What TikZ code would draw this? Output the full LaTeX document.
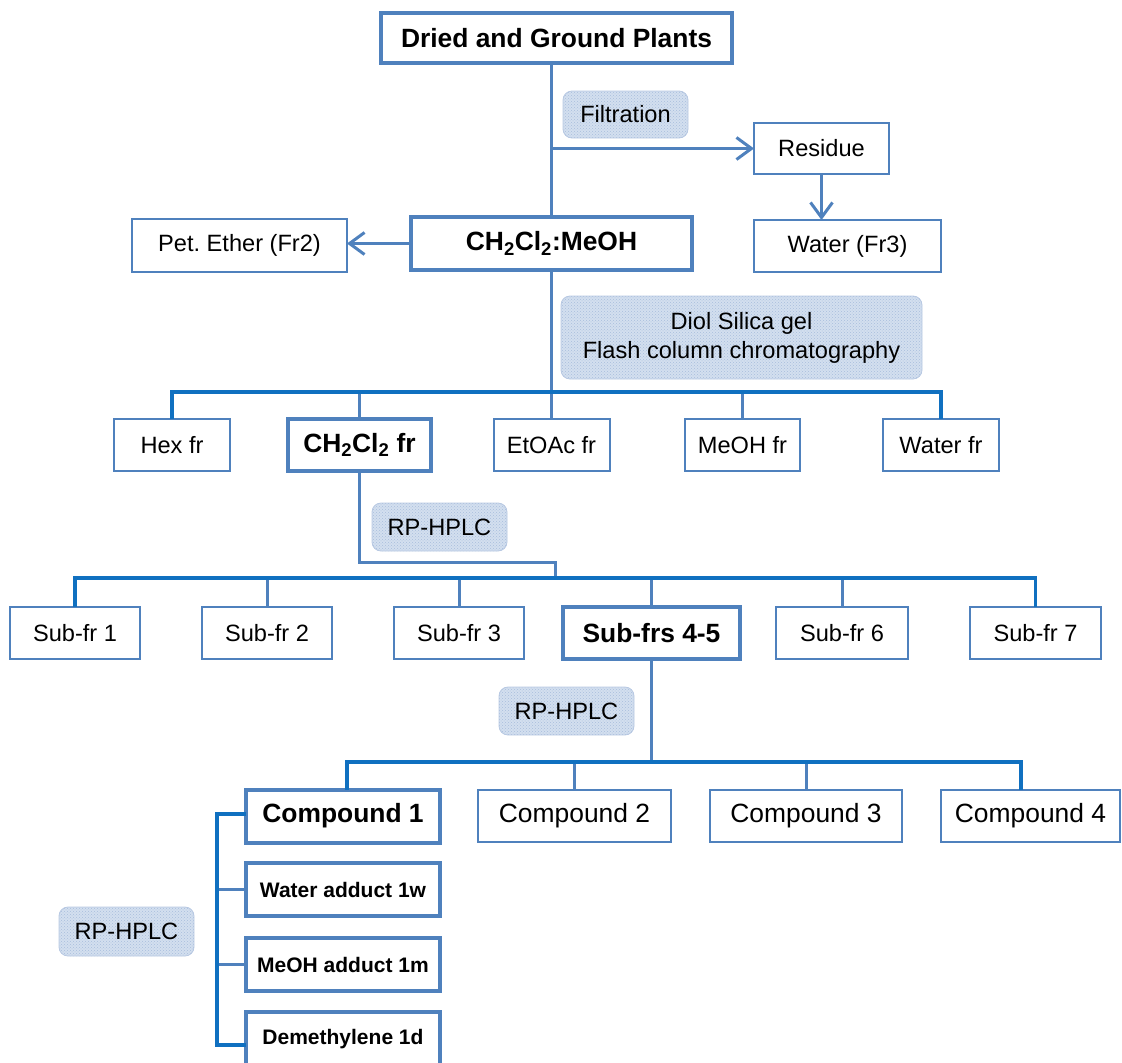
\documentclass[tikz,border=0pt]{standalone}
\usepackage{fontspec}
\setmainfont{Liberation Sans}
\usetikzlibrary{arrows.meta,patterns}
\definecolor{steel}{HTML}{4F81BD}
\definecolor{vivid}{HTML}{1070C0}
\definecolor{lblfill}{HTML}{D3DFEF}
\definecolor{lbldot}{HTML}{A8BEDC}
\definecolor{lbledge}{HTML}{B7C8E2}
\begin{document}
\frenchspacing
\begin{tikzpicture}[x=1pt,y=-1pt,
  box/.style={draw=steel,line width=2pt,fill=white,inner sep=0pt,outer sep=0pt,
    font=\fontsize{23.6}{28}\selectfont,align=center},
  thickbox/.style={box,line width=4pt,font=\fontsize{26.4}{30}\selectfont\bfseries},
  addbox/.style={thickbox,font=\fontsize{21}{25}\selectfont\bfseries},
  cmpbox/.style={box,font=\fontsize{26.4}{30}\selectfont},
  lbl/.style={draw=lbledge,line width=0.8pt,rounded corners=9pt,
    preaction={fill=lblfill},pattern=crosshatch dots,pattern color=lbldot,
    inner sep=0pt,outer sep=0pt,align=center,font=\fontsize{23.6}{29}\selectfont},
  conn/.style={draw=steel,line width=3pt},
  bar/.style={draw=vivid,line width=3.5pt,line join=miter},
  arr/.style={conn,-{Straight Barb[length=15pt,width=22pt,line width=3pt]}}
]
\useasboundingbox (0,0) rectangle (1122,1063);

% nodes
\node[thickbox,minimum width=351pt,minimum height=50pt] (top) at (556.5,38) {Dried and Ground Plants};
\node[lbl,minimum width=125pt,minimum height=47pt] (filt) at (625.5,114.5) {Filtration};
\node[box,minimum width=135pt,minimum height=51pt] (res) at (821.5,148.5) {Residue};
\node[box,minimum width=187pt,minimum height=52pt] (w3) at (847.5,246) {Water (Fr3)};
\node[thickbox,minimum width=281pt,minimum height=53pt] (cm) at (551.5,243.5) {CH\textsubscript{2}Cl\textsubscript{2}:MeOH};
\node[box,minimum width=215pt,minimum height=53pt] (pe) at (239.5,245.5) {Pet. Ether (Fr2)};
\node[lbl,minimum width=361pt,minimum height=83pt] (diol) at (741.5,337.5) {Diol Silica gel\\Flash column chromatography};

\node[box,minimum width=116pt,minimum height=52pt] (hex) at (172,445) {Hex fr};
\node[thickbox,minimum width=143pt,minimum height=52pt] (c2fr) at (359.5,445) {CH\textsubscript{2}Cl\textsubscript{2} fr};
\node[box,minimum width=116pt,minimum height=52pt] (etoac) at (551.5,445) {EtOAc fr};
\node[box,minimum width=115pt,minimum height=52pt] (meoh) at (742.5,445) {MeOH fr};
\node[box,minimum width=116pt,minimum height=52pt] (wfr) at (941,445) {Water fr};

\node[lbl,minimum width=135pt,minimum height=48pt] (rp2) at (439.5,527) {RP-HPLC};

\node[box,minimum width=130pt,minimum height=52pt] (sf1) at (75,633) {Sub-fr 1};
\node[box,minimum width=130pt,minimum height=52pt] (sf2) at (267,633) {Sub-fr 2};
\node[box,minimum width=130pt,minimum height=52pt] (sf3) at (459,633) {Sub-fr 3};
\node[thickbox,minimum width=177pt,minimum height=52pt] (sf45) at (651.5,633) {Sub-frs 4-5};
\node[box,minimum width=132pt,minimum height=52pt] (sf6) at (842,633) {Sub-fr 6};
\node[box,minimum width=131pt,minimum height=52pt] (sf7) at (1035.5,633) {Sub-fr 7};

\node[lbl,minimum width=135pt,minimum height=48pt] (rp3) at (566.5,711) {RP-HPLC};

\node[thickbox,minimum width=194pt,minimum height=53pt] (cp1) at (343,816) {Compound 1};
\node[cmpbox,minimum width=193pt,minimum height=52pt] (cp2) at (574.5,816) {Compound 2};
\node[cmpbox,minimum width=192pt,minimum height=52pt] (cp3) at (806,816) {Compound 3};
\node[cmpbox,minimum width=179pt,minimum height=52pt] (cp4) at (1030.5,816) {Compound 4};

\node[addbox,minimum width=194pt,minimum height=53pt] (w1w) at (343,889.5) {Water adduct 1w};
\node[addbox,minimum width=194pt,minimum height=53pt] (m1m) at (343,964.5) {MeOH adduct 1m};
\node[addbox,minimum width=194pt,minimum height=54pt] (d1d) at (343,1039) {Demethylene 1d};

\node[lbl,minimum width=135pt,minimum height=49pt] (rp4) at (126.5,931.5) {RP-HPLC};

% connectors
\coordinate (tj) at (top.south -| cm.north);
\coordinate (fj) at (cm.north |- res.west);
\draw[conn] (tj) -- (cm.north);
\draw[arr] (fj) -- (res.west);
\draw[arr] (res.south) -- (res.south |- w3.north);
\draw[arr] (cm.west) -- (cm.west -| pe.east);
\draw[conn] (cm.south) -- (etoac.north);

% bar 1
\coordinate (b1l) at (172,392);
\coordinate (b1r) at (941,392);
\draw[conn] (c2fr.north) -- (c2fr.north |- b1l);
\draw[conn] (meoh.north) -- (meoh.north |- b1l);
\draw[bar] (hex.north) -- (b1l) -- (b1r) -- (wfr.north);

% CH2Cl2 fr to bar 2
\coordinate (k1) at (362,562);
\coordinate (k2) at (555,562);
\coordinate (k3) at (555,578);
\draw[conn,line join=miter] (c2fr.south) -- (c2fr.south |- k1) -- (k2) -- (k3);

% bar 2
\coordinate (b2l) at (75,578);
\coordinate (b2r) at (1035.5,578);
\draw[conn] (sf2.north) -- (sf2.north |- b2l);
\draw[conn] (sf3.north) -- (sf3.north |- b2l);
\draw[conn] (sf45.north) -- (sf45.north |- b2l);
\draw[conn] (sf6.north) -- (sf6.north |- b2l);
\draw[bar] (sf1.north) -- (b2l) -- (b2r) -- (sf7.north);

% bar 3
\coordinate (b3l) at (347,762);
\coordinate (b3r) at (1021,762);
\draw[conn] (sf45.south) -- (sf45.south |- b3l);
\draw[conn] (cp2.north) -- (cp2.north |- b3l);
\draw[conn] (cp3.north) -- (cp3.north |- b3l);
\draw[bar] ([xshift=4pt]cp1.north) -- (b3l) -- (b3r) -- (b3r |- cp4.north);

% bracket
\coordinate (brt) at (217,814);
\coordinate (brb) at (217,1045);
\coordinate (d1stub) at (d1d.west |- brb);
\draw[conn] (w1w.west) -- (w1w.west -| brt);
\draw[conn] (m1m.west) -- (m1m.west -| brt);
\draw[bar] (cp1.west |- brt) -- (brt) -- (brb) -- (d1stub);
\end{tikzpicture}
\end{document}
